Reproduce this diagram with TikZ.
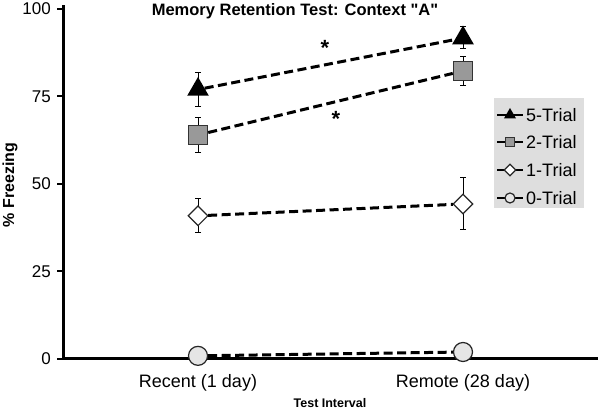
\documentclass[tikz,border=0pt]{standalone}
\usepackage{fontspec}
\setmainfont{Liberation Sans}
\newfontfamily\titlefont{Liberation Sans}
\usetikzlibrary{shapes.geometric,arrows.meta,positioning}

\begin{document}
\begin{tikzpicture}[x=1pt, y=1pt,
    tri/.style={regular polygon, regular polygon sides=3, fill=black, inner sep=0pt, minimum size=25pt},
    sq/.style={rectangle, fill=black!40, draw=black!80, line width=1.5pt, inner sep=0pt, minimum size=19pt},
    dia/.style={diamond, fill=white, draw=black!85, line width=1.2pt, inner sep=0pt, minimum size=20pt},
    circ/.style={circle, fill=black!10, draw=black!85, line width=1.2pt, inner sep=0pt, minimum size=19pt},
    trend/.style={line width=3pt, dash pattern=on 9pt off 4.5pt},
    ebar/.style={line width=0.8pt, {Bar[width=6pt]}-{Bar[width=6pt]}},
    ticklab/.style={font=\fontsize{17}{20}\selectfont, anchor=east, inner sep=0pt},
    catlab/.style={font=\fontsize{18}{21}\selectfont},
    leglab/.style={font=\fontsize{18}{21}\selectfont, anchor=west, inner sep=0pt}
]
\useasboundingbox (0,0) rectangle (600,409);

% Title and axis labels
\node[font=\titlefont\bfseries\fontsize{16.5}{19}\selectfont] (title) at (295,398) {Memory Retention Test: Context "A"};
\node[font=\bfseries\fontsize{16}{19}\selectfont, rotate=90] (ylab) at (10,224) {\% Freezing};
\node[font=\bfseries\fontsize{12.5}{15}\selectfont] (xlab) at (330,6) {Test Interval};
\node[catlab] (recent) at (198,26) {Recent (1 day)};
\node[catlab] (remote) at (463,26) {Remote (28 day)};

\begin{scope}[y=3.5pt, yshift=50pt]
% Axes
\draw[line width=3pt] (63,101) -- (63,0) -- (598,0);
\foreach \v in {0,25,50,75,100} {
    \draw[line width=2pt] (57,\v) -- (63,\v);
    \node[ticklab] at (51,\v) {\v};
}

% Error bars
\draw[ebar] (198,72) -- (198,82);
\draw[ebar] (463,88.5) -- (463,95);
\draw[ebar] (198,59) -- (198,69);
\draw[ebar] (463,78) -- (463,86.6);
\draw[ebar] (198,36) -- (198,46);
\draw[ebar] (463,37) -- (463,52);

% Markers
\node[tri] (fiveA) at (198,77) {};
\node[tri] (fiveB) at (463,91.7) {};
\node[sq] (twoA) at (198,64) {};
\node[sq] (twoB) at (463,82.3) {};
\node[dia] (oneA) at (198,40.9) {};
\node[dia] (oneB) at (463,44.3) {};
\node[circ] (zeroA) at (198,0.9) {};
\node[circ] (zeroB) at (463,2) {};

% Dashed trends
\draw[trend] (fiveA) -- (fiveB);
\draw[trend] (twoA) -- (twoB);
\draw[trend] (oneA) -- (oneB);
\draw[trend] (zeroA) -- (zeroB);

% Significance
\node[font=\bfseries\fontsize{22}{24}\selectfont] (starA) at (325,89) {*};
\node[font=\bfseries\fontsize{22}{24}\selectfont] (starB) at (336,68.5) {*};
\end{scope}

% Legend
\node[fill=black!13, minimum width=90pt, minimum height=110pt] (legend) at (538.5,255.5) {};
\foreach \mk/\sz/\ypos/\lab in {tri/14pt/294/5-Trial, sq/9pt/267/2-Trial, dia/12pt/239/1-Trial, circ/10pt/211/0-Trial} {
    \draw[line width=2.5pt] (497,\ypos) -- (523,\ypos);
    \node[\mk, minimum size=\sz] at (510,\ypos) {};
    \node[leglab] at (526,\ypos) {\lab};
}
\end{tikzpicture}
\end{document}
